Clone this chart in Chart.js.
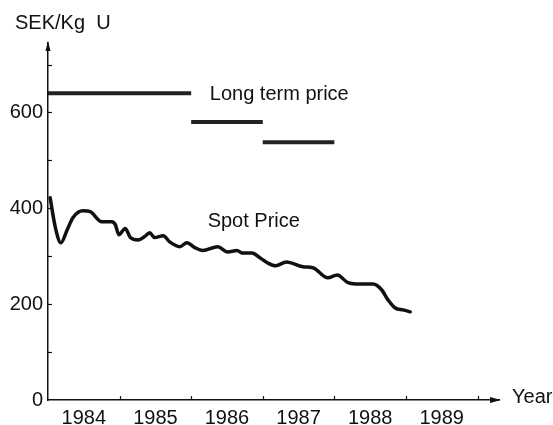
<!DOCTYPE html>
<html>
<head>
<meta charset="utf-8">
<script src="https://cdn.jsdelivr.net/npm/chart.js@4/dist/chart.umd.min.js"></script>
<style>
  html, body { margin: 0; padding: 0; background: #fff; }
  #wrap { width: 553px; height: 425px; }
</style>
</head>
<body>
<div id="wrap"><canvas id="c" width="553" height="425"></canvas></div>
<script>
// ---- data ----
const spotYears  = [1984.03,1984.10,1984.18,1984.27,1984.35,1984.49,1984.59,1984.75,1984.89,1984.94,1984.99,1985.08,1985.15,1985.26,1985.35,1985.42,1985.49,1985.61,1985.70,1985.84,1985.94,1986.05,1986.16,1986.37,1986.51,1986.64,1986.71,1986.85,1986.96,1987.07,1987.18,1987.33,1987.56,1987.70,1987.91,1988.04,1988.19,1988.36,1988.54,1988.66,1988.75,1988.85,1988.96,1989.06];
const spotPrices = [422,362,328,356,381,395,393,372,372,366,345,358,339,334,341,349,339,343,330,320,328,318,312,320,309,312,307,307,297,286,280,288,278,276,255,261,245,242,242,230,209,192,188,184];
const longStart  = [1984.0, 1986.0, 1987.0];
const longEnd    = [1986.0, 1987.0, 1988.0];
const longPrices = [640, 580, 538];
const xLabelYears = [1984, 1985, 1986, 1987, 1988, 1989];
const xTickYears  = [1985, 1986, 1987, 1988, 1989, 1990];
const yLabelValues = [0, 200, 400, 600];
const yTickValues  = [100, 200, 300, 400, 500, 600, 700];
const yTitle = 'SEK/Kg  U';
const xTitle = 'Year';
const longLabel = 'Long term price';
const spotLabel = 'Spot Price';

const FONT = '"Liberation Sans", Arial, Helvetica, sans-serif';
const INK = '#111';

const datasets = [];
longPrices.forEach((p, i) => {
  datasets.push({
    data: [{x: longStart[i], y: p}, {x: longEnd[i], y: p}],
    borderColor: '#222', borderWidth: 4, pointRadius: 0, borderCapStyle: 'butt'
  });
});
datasets.push({
  data: spotYears.map((x, i) => ({x, y: spotPrices[i]})),
  borderColor: INK, borderWidth: 3.5, pointRadius: 0, tension: 0.4,
  cubicInterpolationMode: 'monotone', borderCapStyle: 'round', borderJoinStyle: 'round'
});

const decor = {
  id: 'decor',
  afterDraw(chart) {
    const ctx = chart.ctx, xs = chart.scales.x, ys = chart.scales.y, a = chart.chartArea;
    ctx.save();
    ctx.strokeStyle = INK; ctx.fillStyle = INK; ctx.lineWidth = 1.2;
    // inward tick marks
    yTickValues.forEach(v => {
      const py = Math.round(ys.getPixelForValue(v)) + 0.5;
      ctx.beginPath(); ctx.moveTo(a.left, py); ctx.lineTo(a.left + 4, py); ctx.stroke();
    });
    xTickYears.forEach(v => {
      const px = Math.round(xs.getPixelForValue(v)) + 0.5;
      ctx.beginPath(); ctx.moveTo(px, a.bottom); ctx.lineTo(px, a.bottom - 4); ctx.stroke();
    });
    // arrowheads
    ctx.beginPath();
    ctx.moveTo(a.left, a.top - 2); ctx.lineTo(a.left - 2.5, a.top + 8); ctx.lineTo(a.left + 2.5, a.top + 8); ctx.closePath(); ctx.fill();
    ctx.beginPath();
    ctx.moveTo(a.right + 2, a.bottom); ctx.lineTo(a.right - 9, a.bottom - 3); ctx.lineTo(a.right - 9, a.bottom + 3); ctx.closePath(); ctx.fill();
    // texts
    ctx.font = '20px ' + FONT;
    ctx.textBaseline = 'middle';
    ctx.textAlign = 'left';
    ctx.fillText(yTitle, 15, 23);
    ctx.fillText(xTitle, a.right + 13, a.bottom - 3);
    ctx.fillText(longLabel, xs.getPixelForValue(1986.26), ys.getPixelForValue(638));
    ctx.fillText(spotLabel, xs.getPixelForValue(1986.23), ys.getPixelForValue(372));
    ctx.restore();
  }
};

new Chart(document.getElementById('c'), {
  type: 'line',
  data: { datasets },
  options: {
    responsive: false,
    animation: false,
    events: [],
    layout: { padding: { left: 0, top: 43, right: 54, bottom: 0 } },
    plugins: { legend: { display: false }, tooltip: { enabled: false } },
    scales: {
      x: {
        type: 'linear', min: 1984, max: 1990.3,
        afterBuildTicks: s => { s.ticks = xLabelYears.map(v => ({value: v + 0.5})); },
        afterFit: s => { s.height = 25; },
        grid: { display: false, drawTicks: false },
        border: { display: true, color: INK, width: 1.5 },
        ticks: {
          autoSkip: false, maxRotation: 0, padding: 6, color: INK,
          font: { family: FONT, size: 20 },
          callback: v => String(Math.floor(v))
        }
      },
      y: {
        type: 'linear', min: 0, max: 745,
        afterBuildTicks: s => { s.ticks = yLabelValues.map(v => ({value: v})); },
        afterFit: s => { s.width = 48; },
        grid: { display: false, drawTicks: false },
        border: { display: true, color: INK, width: 1.5 },
        ticks: {
          padding: 5, color: INK,
          font: { family: FONT, size: 20 },
          callback: v => String(v)
        }
      }
    }
  },
  plugins: [decor]
});
</script>
</body>
</html>
